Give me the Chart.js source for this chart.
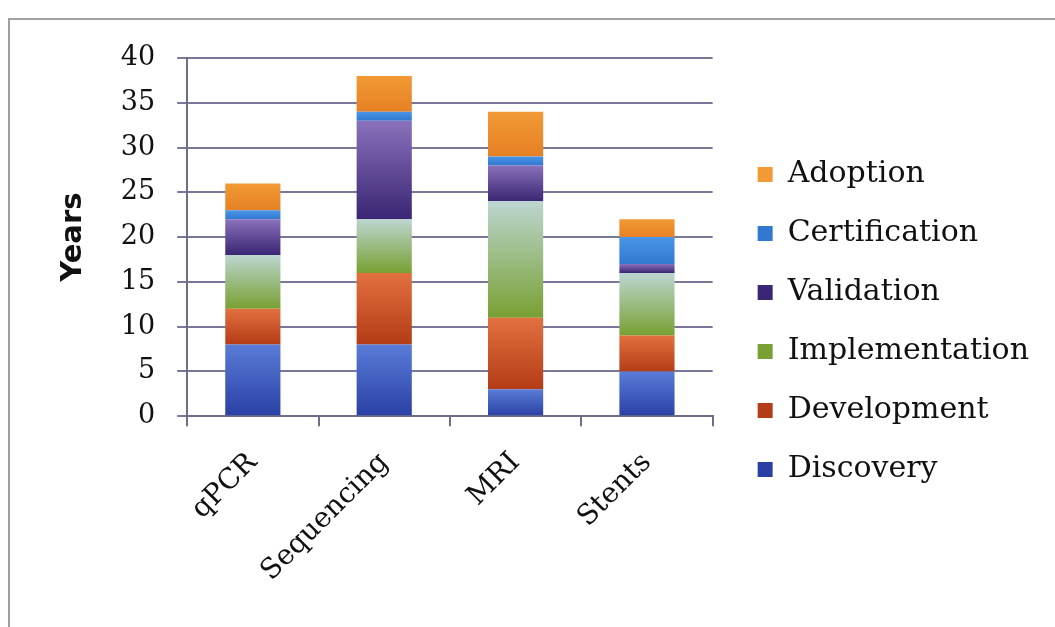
<!DOCTYPE html>
<html>
<head>
<meta charset="utf-8">
<script src="https://cdn.jsdelivr.net/npm/chart.js@4"></script>
<style>
  html, body { margin: 0; padding: 0; background: #fff; overflow: hidden; }
  #frame { position: absolute; left: 8px; top: 18px; width: 1100px; height: 700px; border: 2px solid #a0a0a0; }
  #wrap { position: absolute; left: 0; top: 0; width: 1055px; height: 627px; }
</style>
</head>
<body>
<div id="frame"></div>
<div id="wrap"><canvas id="chart"></canvas></div>
<script>
const categories = ["qPCR", "Sequencing", "MRI", "Stents"];
const discovery = [8, 8, 3, 5];
const development = [4, 8, 8, 4];
const implementation = [6, 6, 13, 7];
const validation = [4, 11, 4, 1];
const certification = [1, 1, 1, 3];
const adoption = [3, 4, 5, 2];
const yTicks = [0, 5, 10, 15, 20, 25, 30, 35, 40];

const serif = "'DejaVu Serif', serif";

// [legend colour, top of segment, bottom of segment]
const shades = [
    ['#4466cc', '#5a7cd8', '#2a40a4'],
    ['#d65a24', '#e27040', '#b43c16'],
    ['#8fb050', '#bcd6d0', '#78a032'],
    ['#5e4494', '#8a72bc', '#3a2674'],
    ['#3f8be0', '#4a96e6', '#3278d0'],
    ['#ee8f2c', '#f29a36', '#e68024']
];

// vertical gradient for each stacked segment, placed with the y scale
function shade(di) {
    return function (c) {
        if (c.type !== 'data') return shades[di][0];
        const chart = c.chart;
        const y = chart.scales.y;
        if (!y || !chart.chartArea) return shades[di][0];
        const sets = chart.data.datasets;
        let base = 0;
        for (let k = 0; k < di; k++) base += sets[k].data[c.dataIndex];
        const top = base + sets[di].data[c.dataIndex];
        const y0 = y.getPixelForValue(top);
        const y1 = y.getPixelForValue(base);
        if (!isFinite(y0) || !isFinite(y1) || y0 === y1) return shades[di][0];
        const g = chart.ctx.createLinearGradient(0, y0, 0, y1);
        g.addColorStop(0, shades[di][1]);
        g.addColorStop(1, shades[di][2]);
        return g;
    };
}

function series(label, data, di) {
    return {
        label: label,
        data: data,
        backgroundColor: shade(di),
        borderWidth: 0,
        barPercentage: 0.42,
        categoryPercentage: 1
    };
}

const ctx = document.getElementById('chart').getContext('2d');
const chart = new Chart(ctx, {
    type: 'bar',
    data: {
        labels: categories,
        datasets: [
            series('Discovery', discovery, 0),
            series('Development', development, 1),
            series('Implementation', implementation, 2),
            series('Validation', validation, 3),
            series('Certification', certification, 4),
            series('Adoption', adoption, 5)
        ]
    },
    options: {
        responsive: true,
        maintainAspectRatio: false,
        animation: false,
        layout: { padding: { left: 52, top: 36, right: 16, bottom: 19 } },
        plugins: {
            tooltip: { enabled: false },
            legend: {
                position: 'right',
                reverse: true,
                maxWidth: 360,
                labels: {
                    color: '#111',
                    font: { family: serif, size: 30 },
                    boxWidth: 15,
                    boxHeight: 15,
                    padding: 29
                }
            }
        },
        scales: {
            x: {
                stacked: true,
                grid: {
                    offset: true,
                    drawOnChartArea: false,
                    color: '#6e6e88',
                    lineWidth: 2,
                    tickLength: 10
                },
                border: { color: '#6e6e88', width: 2 },
                ticks: {
                    color: '#111',
                    font: { family: serif, size: 28 },
                    maxRotation: 45,
                    minRotation: 45,
                    padding: 20
                }
            },
            y: {
                stacked: true,
                min: 0,
                max: 40,
                afterBuildTicks: (axis) => { axis.ticks = yTicks.map(v => ({ value: v })); },
                grid: {
                    color: '#7a789a',
                    lineWidth: 2,
                    tickLength: 10
                },
                border: { color: '#6e6e88', width: 2 },
                ticks: {
                    color: '#111',
                    font: { family: serif, size: 27 },
                    padding: 22
                },
                title: {
                    display: true,
                    text: 'Years',
                    color: '#111',
                    font: { family: "'DejaVu Sans', sans-serif", size: 29, weight: 'bold' },
                    padding: { bottom: 8 }
                }
            },
            // empty axes that only keep room around the plot
            gap: {
                type: 'linear',
                axis: 'y',
                position: 'right',
                grid: { display: false },
                border: { display: false },
                ticks: { display: false },
                afterFit: (s) => { s.width = 16; }
            },
            gapTop: {
                type: 'category',
                axis: 'x',
                position: 'top',
                grid: { display: false },
                border: { display: false },
                ticks: { display: false },
                afterFit: (s) => { s.height = 22; }
            }
        }
    }
});
</script>
</body>
</html>
